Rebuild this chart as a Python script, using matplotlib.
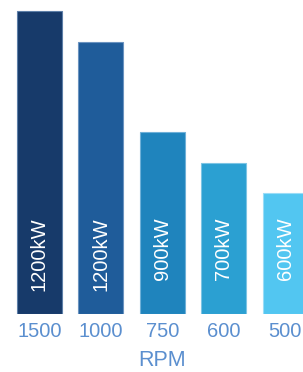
import matplotlib
matplotlib.use("Agg")
import matplotlib.pyplot as plt
from matplotlib.transforms import blended_transform_factory

categories = ["1500", "1000", "750", "600", "500"]
heights = [10, 9, 6, 5, 4]
labels = ["1200kW", "1200kW", "900kW", "700kW", "600kW"]
colors = ["#173a6a", "#1f5c9a", "#1f84bd", "#2ba0d2", "#52c6f1"]
edge_colors = ["#5d7fa8", "#6b93c0", "#6fb0d8", "#7cc4e4", "#9adcf7"]
xlabel = "RPM"

plt.rcParams['font.family'] = ['Liberation Sans', 'DejaVu Sans']

fig = plt.figure(figsize=(3.03, 3.72), dpi=100)
ax = fig.add_axes([0, 58/372, 1, 314/372])
x = list(range(len(categories)))
ax.bar(x, heights, width=0.73, color=colors, edgecolor=edge_colors, linewidth=0.8)
for xi, lab in zip(x, labels):
    ax.text(xi, 3.2, lab, rotation=90, ha='center', va='top', color='white', fontsize=14.5)

ax.set_xlim(-0.643, 4.29)
ax.set_ylim(0, 10.38)
ax.set_xticks(x)
ax.set_xticklabels(categories, color="#5b8fcf", fontsize=14.5)
ax.tick_params(axis='x', length=0, pad=6)
ax.set_yticks([])
for s in ax.spines.values():
    s.set_visible(False)

trans = blended_transform_factory(ax.transData, fig.transFigure)
ax.text(2, 1/372, xlabel, transform=trans, ha='center', va='bottom', color="#5b8fcf", fontsize=15.5)

fig.savefig("out.png", dpi=100)
